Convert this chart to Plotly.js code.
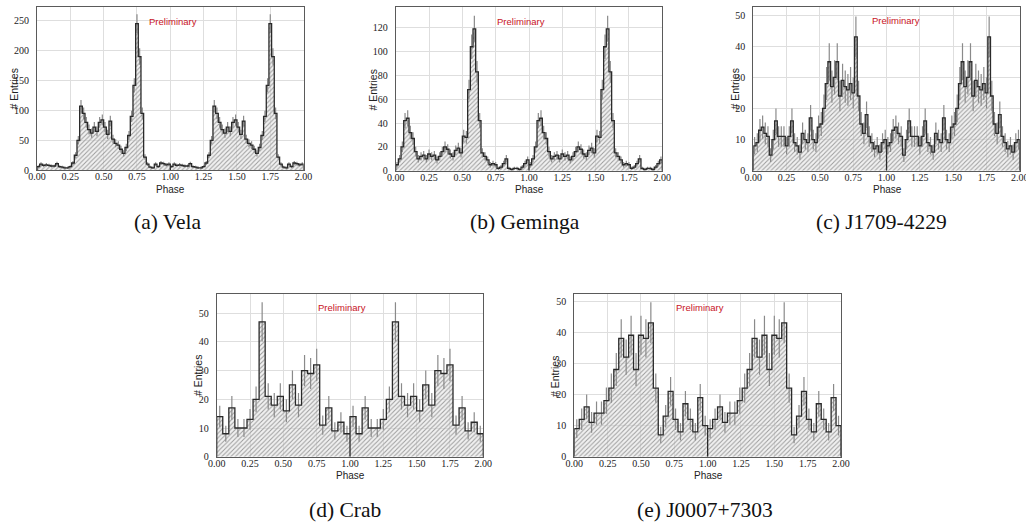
<!DOCTYPE html>
<html>
<head>
<meta charset="utf-8">
<script src="https://cdn.plot.ly/plotly-3.0.1.min.js"></script>
<style>
html,body{margin:0;padding:0;background:#fff;}
#chart{width:1026px;height:525px;}
</style>
</head>
<body>
<div id="chart"></div>
<script>
// ---- Data: counts per phase bin for one rotation (phase 0-1); the plots show two rotations ----
const velaCounts = [6, 10, 8, 9, 8, 7, 7, 11, 6, 5, 4, 4, 6, 12, 25, 50, 107, 95, 80, 68, 62, 72, 65, 80, 84, 72, 60, 82, 52, 45, 42, 35, 28, 38, 58, 90, 142, 245, 190, 95, 22, 10, 5, 4, 10, 6, 12, 11, 9, 10];
const gemingaCounts = [5, 10, 20, 42, 44, 32, 27, 16, 10, 12, 13, 10, 14, 12, 13, 9, 12, 16, 20, 18, 14, 12, 17, 19, 15, 29, 28, 68, 104, 119, 83, 42, 15, 12, 9, 5, 6, 5, 2, 3, 6, 10, 2, 1, 2, 2, 1, 3, 6, 9];
const j1709Counts = [8, 9, 13, 14, 12, 11, 5, 10, 16, 11, 11, 11, 8, 11, 16, 9, 8, 6, 12, 10, 9, 17, 10, 9, 14, 15, 20, 28, 35, 27, 30, 35, 24, 29, 27, 26, 28, 25, 43, 24, 15, 12, 18, 11, 9, 7, 8, 6, 9, 10];
const crabCounts = [14, 8, 17, 10, 10, 13, 20, 47, 21, 18, 21, 16, 25, 18, 30, 29, 32, 11, 17, 9, 12, 8];
const j0007Counts = [9, 12, 16, 11, 14, 14, 18, 22, 28, 38, 32, 39, 28, 39, 38, 43, 22, 7, 13, 21, 12, 8, 17, 12, 8, 19, 10];

const rotations = 2;
const xTickVals = [0, 0.25, 0.5, 0.75, 1.0, 1.25, 1.5, 1.75, 2.0];
const xTitle = 'Phase';
const yTitle = '# Entries';
const watermark = 'Preliminary';
const captions = ['(a) Vela', '(b) Geminga', '(c) J1709-4229', '(d) Crab', '(e) J0007+7303'];

// ---- Layout geometry (pixels) ----
const W = 1026, H = 525;
const panels = [
  {counts: velaCounts,    yMax: 272.4, dtick: 50, x0: 37.0,  x1: 303.6, yT: 7.3,   yB: 170.2, pre: [173.4, 21.5], cap: [168, 222], yl: [13.5, 89],  xl: [170, 189]},
  {counts: gemingaCounts, yMax: 137.1, dtick: 20, x0: 395.7, x1: 662.3, yT: 7.3,   yB: 170.7, pre: [521, 21],     cap: [525, 222], yl: [372.5, 90], xl: [529, 189]},
  {counts: j1709Counts,   yMax: 52.5,  dtick: 10, x0: 753.3, x1: 1019.8, yT: 7.3,  yB: 170.7, pre: [896, 20.5],   cap: [881, 222], yl: [734.5, 89], xl: [887, 189]},
  {counts: crabCounts,    yMax: 56.6,  dtick: 10, x0: 216.7, x1: 483.3, yT: 294.3, yB: 456.7, pre: [342, 307.5],  cap: [345, 510], yl: [198, 376],  xl: [350, 475]},
  {counts: j0007Counts,   yMax: 52.15, dtick: 10, x0: 574.3, x1: 841.0, yT: 294.3, yB: 456.7, pre: [700.3, 307.5],cap: [705, 510], yl: [555, 377],  xl: [708, 475]}
];

const serif = 'Liberation Serif, Times New Roman, serif';
const sans = 'Liberation Sans, Arial, Helvetica, sans-serif';

function stepPath(counts) {
  const n = counts.length, w = 1 / n;
  const xs = [], ys = [];
  for (let c = 0; c < rotations; c++) {
    xs.push(c); ys.push(0);
    for (let i = 0; i < n; i++) { xs.push(c + i * w); ys.push(counts[i]); }
    xs.push(c + 1); ys.push(0);
  }
  return {xs, ys};
}
function centers(counts) {
  const n = counts.length, w = 1 / n;
  const xs = [], ys = [], es = [];
  for (let c = 0; c < rotations; c++) {
    for (let i = 0; i < n; i++) { xs.push(c + (i + 0.5) * w); ys.push(counts[i]); es.push(Math.sqrt(counts[i])); }
  }
  return {xs, ys, es};
}

const data = [];
const layout = {
  width: W, height: H,
  margin: {l: 0, r: 0, t: 0, b: 0},
  paper_bgcolor: '#ffffff', plot_bgcolor: '#ffffff',
  showlegend: false,
  annotations: []
};

panels.forEach((p, k) => {
  const sfx = k === 0 ? '' : String(k + 1);
  const xa = 'x' + sfx, ya = 'y' + sfx;
  const sp = stepPath(p.counts);
  const cc = centers(p.counts);
  // hatched fill
  data.push({
    type: 'scatter', mode: 'lines', x: sp.xs, y: sp.ys, xaxis: xa, yaxis: ya,
    line: {shape: 'hv', width: 0, color: 'rgba(0,0,0,0)'},
    fill: 'tozeroy', fillcolor: 'rgba(225,225,225,0.45)',
    fillpattern: {shape: '/', bgcolor: 'rgba(225,225,225,0.45)', fgcolor: '#9c9c9c', size: 3.2, solidity: 0.32},
    hoverinfo: 'skip'
  });
  // error bars
  data.push({
    type: 'scatter', mode: 'markers', x: cc.xs, y: cc.ys, xaxis: xa, yaxis: ya,
    marker: {size: 1, color: 'rgba(0,0,0,0)'},
    error_y: {type: 'data', array: cc.es, visible: true, color: '#8a8a8a', thickness: 1.2, width: 0},
    hoverinfo: 'skip'
  });
  // step outline
  data.push({
    type: 'scatter', mode: 'lines', x: sp.xs, y: sp.ys, xaxis: xa, yaxis: ya,
    line: {shape: 'hv', width: 1.3, color: '#2a2a2a'},
    hoverinfo: 'skip'
  });

  const axCommon = {
    showline: true, mirror: true, linecolor: '#5a5a5a', linewidth: 1,
    showgrid: true, gridcolor: '#dedede', gridwidth: 1,
    zeroline: false, ticks: '', ticklen: 0, fixedrange: true,
    tickfont: {family: serif, size: 10, color: '#222'}
  };
  layout['xaxis' + sfx] = Object.assign({}, axCommon, {
    domain: [p.x0 / W, p.x1 / W], anchor: ya, range: [0, 2],
    tickmode: 'array', tickvals: xTickVals, ticktext: xTickVals.map(v => v.toFixed(2)),
    ticklabeloverflow: 'allow', ticklabelstandoff: -3
  });
  layout['yaxis' + sfx] = Object.assign({}, axCommon, {
    domain: [1 - p.yB / H, 1 - p.yT / H], anchor: xa, range: [0, p.yMax],
    tickmode: 'linear', tick0: 0, dtick: p.dtick, ticklabelstandoff: 5
  });

  layout.annotations.push(
    {xref: 'paper', yref: 'paper', x: p.pre[0] / W, y: 1 - p.pre[1] / H, xanchor: 'center', yanchor: 'middle',
     text: watermark, showarrow: false, font: {family: sans, size: 9.5, color: '#c8141e'}},
    {xref: 'paper', yref: 'paper', x: p.cap[0] / W, y: 1 - p.cap[1] / H, xanchor: 'center', yanchor: 'middle',
     text: captions[k], showarrow: false, font: {family: serif, size: 21.5, color: '#111'}},
    {xref: 'paper', yref: 'paper', x: p.yl[0] / W, y: 1 - p.yl[1] / H, xanchor: 'center', yanchor: 'middle',
     text: yTitle, textangle: -90, showarrow: false, font: {family: sans, size: 10.5, color: '#222'}},
    {xref: 'paper', yref: 'paper', x: p.xl[0] / W, y: 1 - p.xl[1] / H, xanchor: 'center', yanchor: 'middle',
     text: xTitle, showarrow: false, font: {family: sans, size: 10, color: '#222'}}
  );
});

Plotly.newPlot('chart', data, layout, {displayModeBar: false, staticPlot: true});
</script>
</body>
</html>
